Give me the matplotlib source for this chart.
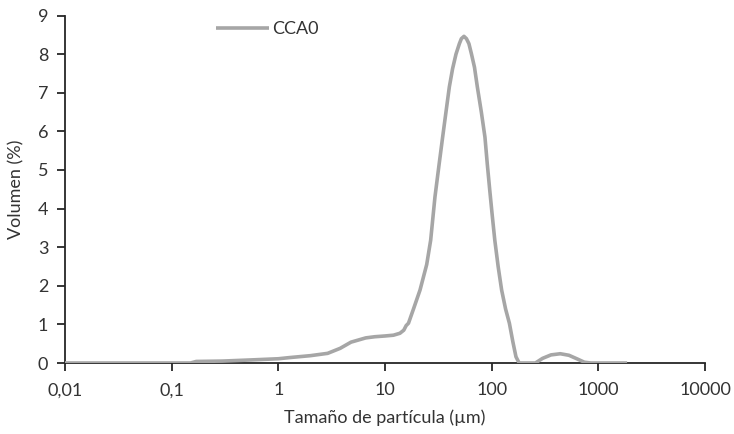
import matplotlib.pyplot as plt

# particle size distribution
size_um = [0.01, 0.02, 0.04, 0.07, 0.1, 0.15, 0.17, 0.3, 0.56, 1.0, 1.27, 2.0,
           2.9, 3.8, 4.8, 6.6, 8.0, 10.0, 12.0, 13.8, 15.0, 15.8, 16.6, 18.5,
           21.3, 24.6, 26.8, 29.4, 32.0, 34.7, 37.5, 40.1, 43.0, 46.3, 49.8,
           52.0, 55.0, 58.0, 61.2, 64.7, 69.0, 73.4, 80.0, 86.5, 91.0, 96.0,
           101.0, 107.0, 115.0, 124.0, 135.0, 146.6, 158.0, 169.0, 181.0,
           220.0, 257.0, 300.0, 360.0, 440.0, 530.0, 640.0, 740.0, 850.0,
           1000.0, 1400.0, 1860.0]
volume = [0, 0, 0, 0, 0, 0, 0.04, 0.05, 0.08, 0.11, 0.14, 0.19,
          0.25, 0.38, 0.54, 0.65, 0.68, 0.70, 0.72, 0.77, 0.85, 0.97, 1.03, 1.40,
          1.89, 2.55, 3.18, 4.30, 5.10, 5.85, 6.55, 7.15, 7.62, 8.0, 8.27,
          8.40, 8.46, 8.40, 8.27, 8.0, 7.66, 7.15, 6.50, 5.85, 5.15, 4.47,
          3.85, 3.18, 2.50, 1.89, 1.40, 1.03, 0.55, 0.16, 0.0,
          0.0, 0.0, 0.12, 0.21, 0.24, 0.20, 0.10, 0.02, 0.0,
          0.0, 0.0, 0.0]
xticks = [0.01, 0.1, 1, 10, 100, 1000, 10000]
xtick_labels = ["0,01", "0,1", "1", "10", "100", "1000", "10000"]
yticks = list(range(0, 10))

plt.rcParams['font.family'] = ['Lato', 'DejaVu Sans']

fig = plt.figure(figsize=(7.34, 4.34), dpi=100)
ax = fig.add_axes([65/734, 1 - 363/434, 640/734, (363 - 15.5)/434])

ax.plot(size_um, volume, color='#a6a6a6', lw=2.6, label='CCA0', zorder=3,
        solid_capstyle='butt', solid_joinstyle='round')

ax.set_xscale('log')
ax.set_xlim(0.01, 10000)
ax.set_ylim(0, 9)
ax.set_xticks(xticks)
ax.set_xticklabels(xtick_labels)
ax.minorticks_off()
ax.set_yticks(yticks)

for side in ['top', 'right']:
    ax.spines[side].set_visible(False)
for side in ['left', 'bottom']:
    ax.spines[side].set_color('#262626')
    ax.spines[side].set_linewidth(1.3)
ax.tick_params(axis='both', direction='out', length=6, width=1.3,
               color='#262626', labelsize=13, labelcolor='#333333')
ax.tick_params(axis='x', pad=8)
ax.tick_params(axis='y', pad=6)

ax.set_xlabel('Tamaño de partícula (µm)', fontsize=13, color='#333333', labelpad=8)
ax.set_ylabel('Volumen (%)', fontsize=13, color='#333333', labelpad=10)

ax.legend(loc='upper left', bbox_to_anchor=(200/734, 1 - 5/434),
          bbox_transform=fig.transFigure, frameon=False, fontsize=13,
          handlelength=2.9, handletextpad=0.2, labelcolor='#333333')

fig.savefig('out.png', dpi=100)
